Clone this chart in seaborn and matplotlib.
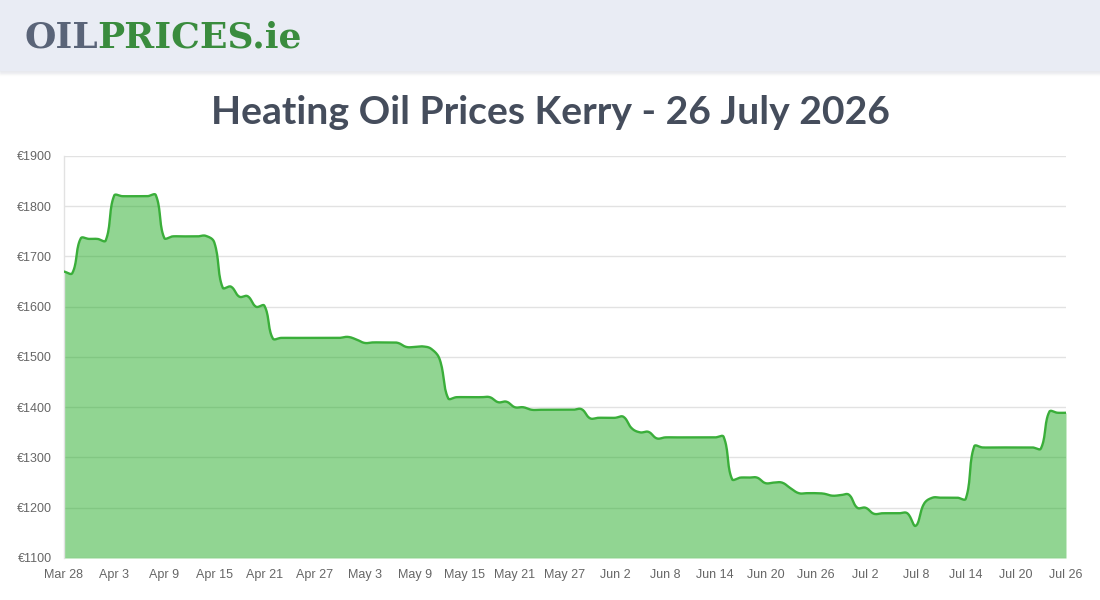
import numpy as np
import pandas as pd
import seaborn as sns
import matplotlib.pyplot as plt
from matplotlib.patches import Rectangle

# daily heating oil prices, Kerry (EUR per 1000 L)
dates = pd.date_range("2026-03-28", "2026-07-26", freq="D")
prices = [
    1670, 1667, 1736, 1735, 1735, 1732, 1821, 1820, 1820, 1820,
    1820, 1822, 1737, 1740, 1740, 1740, 1740, 1741, 1728, 1638,
    1640, 1620, 1621, 1600, 1602, 1537, 1538, 1538, 1538, 1538,
    1538, 1538, 1538, 1538, 1540, 1535, 1528, 1529, 1529, 1529,
    1528, 1520, 1520, 1521, 1516, 1495, 1418, 1420, 1420, 1420,
    1420, 1420, 1410, 1411, 1400, 1400, 1395, 1395, 1395, 1395,
    1395, 1395, 1396, 1378, 1379, 1379, 1379, 1381, 1358, 1350,
    1351, 1338, 1340, 1340, 1340, 1340, 1340, 1340, 1340, 1341,
    1257, 1260, 1260, 1260, 1249, 1250, 1250, 1239, 1229, 1229,
    1229, 1228, 1224, 1225, 1226, 1200, 1200, 1188, 1189, 1189,
    1189, 1189, 1164, 1208, 1220, 1220, 1220, 1220, 1218, 1322,
    1320, 1320, 1320, 1320, 1320, 1320, 1320, 1318, 1391, 1389,
    1389,
]
y_ticks = [1100, 1200, 1300, 1400, 1500, 1600, 1700, 1800, 1900]
tick_step = 6

title = "Heating Oil Prices Kerry - 26 July 2026"
line_color = "#3aae3a"
fill_color = "#24ad26"


def smooth(xs, ys, sx, sy, tension=0.4, steps=16):
    # chart.js style bezier smoothing, done in pixel space
    px = np.asarray(xs, float) * sx
    py = np.asarray(ys, float) * sy
    n = len(px)
    pc = np.zeros((n, 2))
    nc = np.zeros((n, 2))
    for i in range(n):
        a, b = max(i - 1, 0), min(i + 1, n - 1)
        d01 = np.hypot(px[i] - px[a], py[i] - py[a])
        d12 = np.hypot(px[b] - px[i], py[b] - py[i])
        tot = d01 + d12
        s01 = d01 / tot if tot else 0
        s12 = d12 / tot if tot else 0
        dx, dy = px[b] - px[a], py[b] - py[a]
        pc[i] = px[i] - tension * s01 * dx, py[i] - tension * s01 * dy
        nc[i] = px[i] + tension * s12 * dx, py[i] + tension * s12 * dy
    outx, outy = [], []
    t = np.linspace(0, 1, steps, endpoint=False)[:, None]
    for i in range(n - 1):
        p0 = np.array([px[i], py[i]])
        p3 = np.array([px[i + 1], py[i + 1]])
        p1, p2 = nc[i], pc[i + 1]
        seg = ((1 - t) ** 3) * p0 + 3 * ((1 - t) ** 2) * t * p1 + 3 * (1 - t) * t ** 2 * p2 + t ** 3 * p3
        outx.extend(seg[:, 0])
        outy.extend(seg[:, 1])
    outx.append(px[-1])
    outy.append(py[-1])
    return np.array(outx) / sx, np.array(outy) / sy


sns.set_theme(style="white")
plt.rcParams['font.family'] = ['Liberation Sans', 'DejaVu Sans']

fig = plt.figure(figsize=(11, 6), dpi=100)
fig.patch.set_facecolor("white")
renderer = fig.canvas.get_renderer()

# header band with soft shadow
for k in range(6):
    fig.patches.append(Rectangle((0, 1 - (70 + k) / 600), 1, 1 / 600, transform=fig.transFigure,
                                 color="#c8ccd6", alpha=0.18 * (1 - k / 6), zorder=0))
fig.patches.append(Rectangle((0, 1 - 70 / 600), 1, 70 / 600, transform=fig.transFigure,
                             color="#e9ecf4", zorder=1))

logo_kw = dict(fontsize=26, fontweight="bold", family=["DejaVu Serif"], va="center", zorder=3)
t1 = fig.text(24 / 1100, 1 - 38 / 600, "OIL", color="#5a6478", **logo_kw)
bb = t1.get_window_extent(renderer)
fig.text(bb.x1 / 1100, 1 - 38 / 600, "PRICES.ie", color="#3a8c3e", **logo_kw)

# title, sized to span the same width as the original
tt = fig.text(0.5, 1 - 113 / 600, title, ha="center", va="center", fontsize=30,
              color="#454d5c", fontweight="bold", family=["Lato", "DejaVu Sans"])
w = tt.get_window_extent(renderer).width
tt.set_fontsize(30 * 678 / w)

ax = fig.add_axes([64 / 1100, 42 / 600, 1002 / 1100, 402 / 600])
days = np.arange(len(prices))
sx = 1002 / (len(prices) - 1)
sy = 402 / (y_ticks[-1] - y_ticks[0])
cx, cy = smooth(days, prices, sx, sy)

ax.fill_between(cx, y_ticks[0], cy, color=fill_color, alpha=0.5, linewidth=0, zorder=2)
sns.lineplot(x=cx, y=cy, sort=False, estimator=None, color=line_color, linewidth=1.7, ax=ax, zorder=3)

ax.set_xlim(0, len(prices) - 1)
ax.set_ylim(y_ticks[0], y_ticks[-1])
ax.set_yticks(y_ticks)
ax.set_yticklabels([f"€{v}" for v in y_ticks])
xt = days[::tick_step]
ax.set_xticks(xt)
ax.set_xticklabels([dates[i].strftime("%b ") + str(dates[i].day) for i in xt])
ax.yaxis.grid(True, color="#e2e2e2", linewidth=1)
ax.xaxis.grid(False)
ax.set_axisbelow(True)
ax.tick_params(axis="y", length=7, width=1, color="#e2e2e2", labelsize=9, labelcolor="#666666", pad=2)
ax.tick_params(axis="x", length=0, labelsize=9, labelcolor="#666666", pad=8)
for s in ["top", "right", "bottom"]:
    ax.spines[s].set_visible(False)
ax.spines["left"].set_color("#e2e2e2")
ax.spines["left"].set_linewidth(1)
ax.set_xlabel("")
ax.set_ylabel("")

fig.savefig("out.png", dpi=100, facecolor=fig.get_facecolor())
